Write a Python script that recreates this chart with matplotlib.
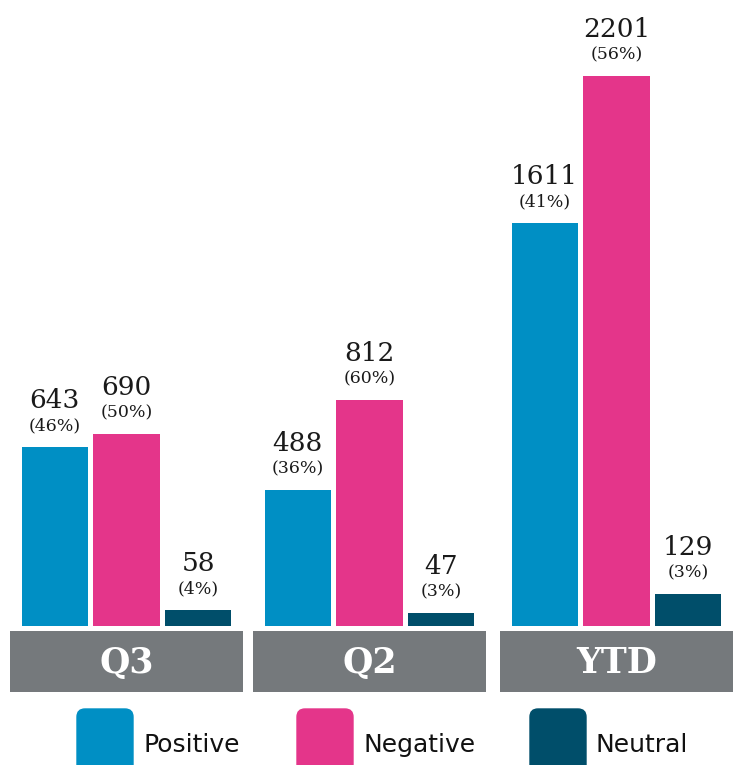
import matplotlib
matplotlib.use('Agg')
import matplotlib.pyplot as plt
from matplotlib.patches import FancyBboxPatch

# dados
grupos = ['Q3', 'Q2', 'YTD']
series = ['Positive', 'Negative', 'Neutral']
positivo = [643, 488, 1611]
negativo = [690, 812, 2201]
neutro = [58, 47, 129]
pct_positivo = [46, 36, 41]
pct_negativo = [50, 60, 56]
pct_neutro = [4, 3, 3]

cores = ['#008fc4', '#e4358a', '#004e6a']
cinza = '#75797c'

# escala de cada painel (o YTD usa outra escala no original)
ymax = [2248, 2248, 2504]

W, H = 736, 765
fig = plt.figure(figsize=(W / 100, H / 100), dpi=100)

esquerda_px = [10, 253, 500]
largura_px = 233
base_px = 626

for i, g in enumerate(grupos):
    x0 = esquerda_px[i] / W
    ax = fig.add_axes([x0, (H - base_px) / H, largura_px / W, base_px / H])
    valores = [positivo[i], negativo[i], neutro[i]]
    pcts = [pct_positivo[i], pct_negativo[i], pct_neutro[i]]
    ax.bar(range(3), valores, width=0.918, color=cores)
    ax.set_xlim(-0.62, 2.62)
    ax.set_ylim(0, ymax[i])
    ax.axis('off')
    for j, (v, p) in enumerate(zip(valores, pcts)):
        ax.annotate(f'({p}%)', (j, v), xytext=(0, 12), textcoords='offset points',
                    ha='center', va='baseline', fontsize=12.5,
                    family='DejaVu Serif', color='#1a1a1a', annotation_clip=False)
        ax.annotate(str(v), (j, v), xytext=(0, 28), textcoords='offset points',
                    ha='center', va='baseline', fontsize=19,
                    family='DejaVu Serif', color='#1a1a1a', annotation_clip=False)

    # caixa cinza com o nome do grupo
    axl = fig.add_axes([x0, (H - 692) / H, largura_px / W, 61 / H])
    axl.set_facecolor(cinza)
    axl.set_xticks([])
    axl.set_yticks([])
    for s in axl.spines.values():
        s.set_visible(False)
    axl.text(0.5, 0.47, g, ha='center', va='center', fontsize=25,
             fontweight='bold', family='DejaVu Serif', color='white',
             transform=axl.transAxes)

# legenda
axg = fig.add_axes([0, 0, 1, (H - 700) / H])
axg.set_xlim(0, W)
axg.set_ylim(H, 700)
axg.axis('off')
leg_x = [77, 297, 530]
for k, nome in enumerate(series):
    axg.add_patch(FancyBboxPatch((leg_x[k] + 8, 717), 40, 60,
                                 boxstyle='round,pad=8', color=cores[k],
                                 clip_on=False))
    axg.text(leg_x[k] + 66, 752, nome, ha='left', va='baseline',
             fontsize=18, family='DejaVu Sans', color='#111111')

fig.savefig('out.png', dpi=100)
